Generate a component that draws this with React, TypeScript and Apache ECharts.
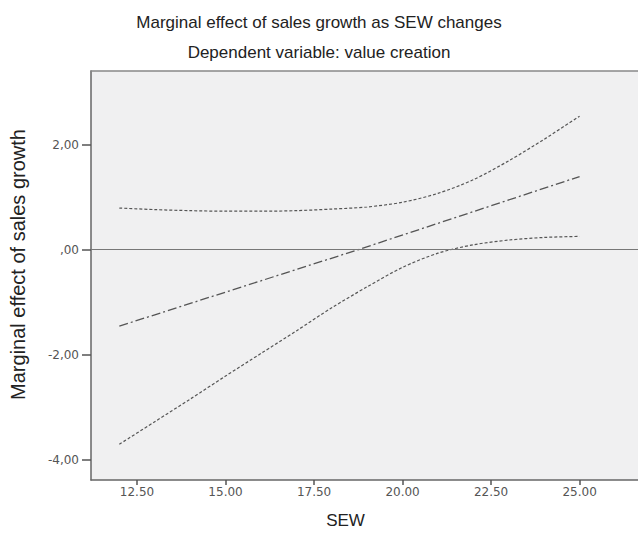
import React, { useEffect, useRef } from "react";
import * as echarts from "echarts";

const titleText = "Marginal effect of sales growth as SEW changes";
const subtitleText = "Dependent variable: value creation";
const xName = "SEW";
const yName = "Marginal effect of sales growth";

const xTicks = [12.5, 15, 17.5, 20, 22.5, 25];
const yTicks = [-4, -2, 0, 2];

const effectLine: [number, number][] = [
  [12, -1.46],
  [18.76, 0],
  [25, 1.39],
];
const upperBound: [number, number][] = [
  [12, 0.79], [13, 0.76], [14, 0.74], [15, 0.73], [16, 0.73], [17, 0.74],
  [18, 0.77], [19, 0.81], [20, 0.9], [21, 1.07], [22, 1.33], [23, 1.69],
  [24, 2.1], [25, 2.54],
];
const lowerBound: [number, number][] = [
  [12, -3.71], [13, -3.28], [14, -2.85], [15, -2.41], [16, -1.98], [17, -1.55],
  [18, -1.11], [19, -0.71], [20, -0.34], [21, -0.07], [22, 0.09], [23, 0.18],
  [24, 0.23], [25, 0.25],
];

const fmtY = (v: number) => {
  const s = Math.abs(v).toFixed(2).replace(".", ",");
  const t = s.startsWith("0") ? s.slice(1) : s;
  return (v < 0 ? "-" : "") + t;
};

export default function App() {
  const ref = useRef<HTMLDivElement>(null);
  useEffect(() => {
    if (!ref.current) return;
    const chart = echarts.init(ref.current, null, { renderer: "svg" });
    const tickFont = { fontFamily: "DejaVu Sans", fontSize: 12, color: "#555" };
    chart.setOption({
      animation: false,
      backgroundColor: "#fff",
      title: [
        {
          text: titleText,
          left: "center",
          top: 9,
          textStyle: { fontFamily: "Liberation Sans", fontSize: 17, fontWeight: "normal", color: "#222" },
        },
        {
          text: subtitleText,
          left: "center",
          top: 39,
          textStyle: { fontFamily: "Liberation Sans", fontSize: 17, fontWeight: "normal", color: "#222" },
        },
      ],
      grid: {
        left: 90,
        top: 71,
        right: 0,
        bottom: 51,
        show: true,
        backgroundColor: "#f0f0f1",
        borderWidth: 0,
      },
      xAxis: [
        {
          type: "value",
          min: 11.2,
          max: 26.65,
          position: "bottom",
          name: xName,
          nameLocation: "middle",
          nameGap: 32,
          nameTextStyle: { fontFamily: "Liberation Sans", fontSize: 17, color: "#222", padding: [0, 38, 0, 0] },
          axisLine: { show: true, onZero: false, lineStyle: { color: "#666", width: 1.5 } },
          axisTick: { show: true, length: 5, lineStyle: { color: "#555", width: 1.5 }, customValues: xTicks },
          axisLabel: { margin: 6, ...tickFont, customValues: xTicks, formatter: (v: number) => v.toFixed(2) },
          splitLine: { show: false },
        },
        {
          type: "value",
          min: 11.2,
          max: 26.65,
          position: "top",
          axisLine: { show: true, onZero: false, lineStyle: { color: "#888", width: 1.5 } },
          axisTick: { show: false },
          axisLabel: { show: false },
          splitLine: { show: false },
        },
      ],
      yAxis: {
        type: "value",
        min: -4.39,
        max: 3.4,
        name: yName,
        nameLocation: "middle",
        nameGap: 63,
        nameTextStyle: { fontFamily: "Liberation Sans", fontSize: 20, color: "#222", padding: [0, 0, 0, 22] },
        axisLine: { show: true, onZero: false, lineStyle: { color: "#666", width: 1.5 } },
        axisTick: { show: true, length: 9, lineStyle: { color: "#555", width: 1.5 }, customValues: yTicks },
        axisLabel: { margin: 12, ...tickFont, customValues: yTicks, formatter: fmtY },
        splitLine: { show: false },
      },
      series: [
        {
          type: "line",
          data: upperBound,
          smooth: 0.3,
          symbol: "none",
          lineStyle: { color: "#555", width: 1.2, type: [3, 2] },
          markLine: {
            silent: true,
            symbol: "none",
            label: { show: false },
            lineStyle: { color: "#777", width: 1.2, type: "solid" },
            data: [{ yAxis: 0 }],
          },
        },
        {
          type: "line",
          data: effectLine,
          symbol: "none",
          lineStyle: { color: "#555", width: 1.3, type: [9, 3, 2, 3] },
        },
        {
          type: "line",
          data: lowerBound,
          smooth: 0.3,
          symbol: "none",
          lineStyle: { color: "#555", width: 1.2, type: [3, 2] },
        },
      ],
    });
    return () => chart.dispose();
  }, []);
  return (
    <div
      ref={ref}
      style={{ position: "absolute", left: 0, top: 0, width: 638, height: 534 }}
    />
  );
}
